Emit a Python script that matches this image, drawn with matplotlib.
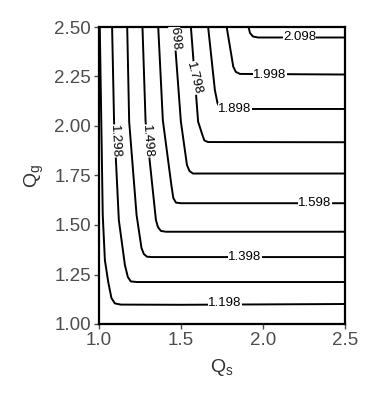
import matplotlib
matplotlib.use("Agg")
import matplotlib.pyplot as plt

plt.rcParams['font.family'] = ['Liberation Sans', 'DejaVu Sans']
plt.rcParams['mathtext.default'] = 'regular'

# contour levels
levels = [1.198, 1.298, 1.398, 1.498, 1.598, 1.698, 1.798, 1.898, 1.998, 2.098]

# contour line paths (Qs, Qg)
qs_1198 = [1.006, 1.015, 1.024, 1.037, 1.057, 1.077, 1.098, 1.134, 1.5, 2.0, 2.5]
qg_1198 = [2.500, 2.030, 1.551, 1.323, 1.214, 1.131, 1.104, 1.098, 1.097, 1.099, 1.101]

qs_1298 = [1.081, 1.093, 1.122, 1.159, 1.177, 1.195, 1.232, 2.5]
qg_1298 = [2.500, 2.022, 1.525, 1.298, 1.237, 1.215, 1.212, 1.212]

qs_1398 = [1.173, 1.185, 1.230, 1.260, 1.274, 1.293, 1.323, 2.5]
qg_1398 = [2.500, 2.022, 1.551, 1.384, 1.354, 1.340, 1.338, 1.338]

qs_1498 = [1.266, 1.285, 1.348, 1.360, 1.378, 1.409, 2.5]
qg_1498 = [2.500, 2.022, 1.525, 1.490, 1.470, 1.466, 1.466]

qs_1598 = [1.362, 1.390, 1.442, 1.454, 1.470, 1.500, 2.5]
qg_1598 = [2.500, 2.030, 1.702, 1.636, 1.613, 1.610, 1.610]

qs_1698 = [1.457, 1.500, 1.537, 1.552, 1.573, 2.5]
qg_1698 = [2.500, 2.022, 1.803, 1.773, 1.760, 1.760]

qs_1798 = [1.561, 1.605, 1.631, 1.643, 1.665, 2.5]
qg_1798 = [2.500, 2.022, 1.955, 1.927, 1.919, 1.918]

qs_1898 = [1.666, 1.707, 1.723, 1.738, 1.774, 2.5]
qg_1898 = [2.500, 2.182, 2.116, 2.091, 2.086, 2.086]

qs_1998 = [1.779, 1.819, 1.835, 1.860, 2.5]
qg_1998 = [2.500, 2.300, 2.273, 2.263, 2.260]

qs_2098 = [1.912, 1.921, 1.939, 1.970, 2.5]
qg_2098 = [2.500, 2.470, 2.452, 2.447, 2.447]

paths_qs = [qs_1198, qs_1298, qs_1398, qs_1498, qs_1598,
            qs_1698, qs_1798, qs_1898, qs_1998, qs_2098]
paths_qg = [qg_1198, qg_1298, qg_1398, qg_1498, qg_1598,
            qg_1698, qg_1798, qg_1898, qg_1998, qg_2098]

# label anchor points (Qs, Qg) and angles
label_qs = [1.768, 1.098, 1.890, 1.293, 2.317, 1.463, 1.577, 1.829, 2.043, 2.225]
label_qg = [1.104, 1.924, 1.340, 1.924, 1.610, 2.465, 2.241, 2.088, 2.258, 2.447]
label_rot = [0, -87, 0, -86, 0, -85, -76, 0, 0, 0]

x_ticks = [1.0, 1.5, 2.0, 2.5]
y_ticks = [1.00, 1.25, 1.50, 1.75, 2.00, 2.25, 2.50]

fig = plt.figure(figsize=(3.8, 4.0), dpi=100)
ax = fig.add_axes([0.26, 0.19, 0.648, 0.7425])

for xs, ys in zip(paths_qs, paths_qg):
    ax.plot(xs, ys, color='black', lw=1.4, solid_joinstyle='round', zorder=2)

for lv, lx, ly, rot in zip(levels, label_qs, label_qg, label_rot):
    ax.text(lx, ly, f"{lv:.3f}", fontsize=9.5, color='black', rotation=rot,
            ha='center', va='center', rotation_mode='anchor', clip_on=True,
            bbox=dict(boxstyle='square,pad=0.0', fc='white', ec='none'),
            zorder=3)

ax.set_xlim(1.0, 2.5)
ax.set_ylim(1.0, 2.5)
ax.set_xticks(x_ticks)
ax.set_xticklabels([f"{v:.1f}" for v in x_ticks])
ax.set_yticks(y_ticks)
ax.set_yticklabels([f"{v:.2f}" for v in y_ticks])
ax.tick_params(axis='both', labelsize=13.5, colors='#4D4D4D', length=3.5,
               width=1.0, pad=2)
for sp in ax.spines.values():
    sp.set_linewidth(1.6)
    sp.set_color('black')

ax.set_xlabel('Q$_s$', fontsize=14, color='#333333', labelpad=6)
ax.set_ylabel('Q$_g$', fontsize=14, color='#333333', labelpad=6)

fig.savefig('out.png', dpi=100)
